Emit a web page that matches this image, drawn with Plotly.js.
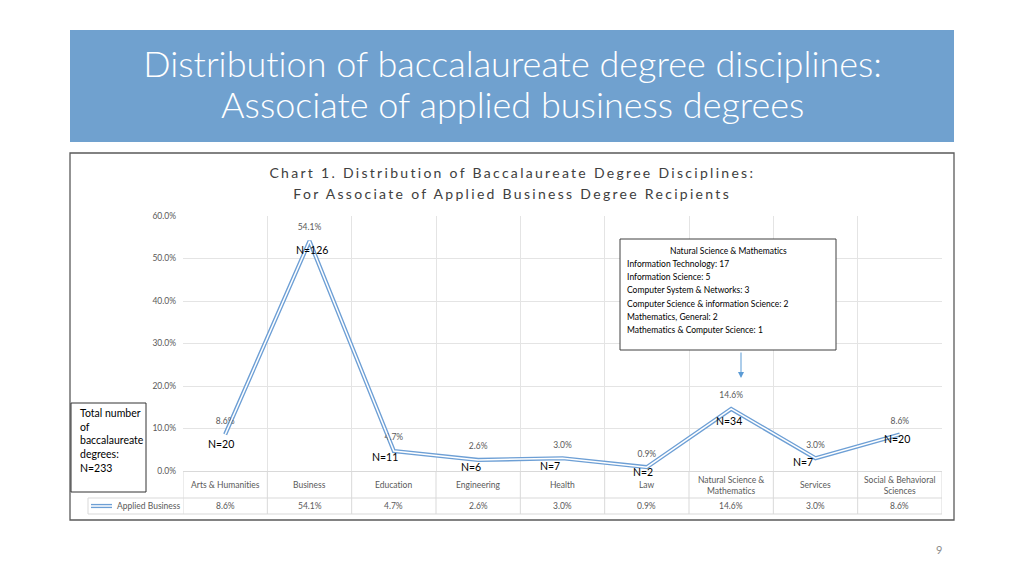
<!DOCTYPE html>
<html>
<head>
<meta charset="utf-8">
<script src="https://cdn.plot.ly/plotly-3.0.1.min.js"></script>
<style>
  html, body { margin: 0; padding: 0; background: #fff; }
  #plot { width: 1024px; height: 576px; }
  #plot text { font-variant-ligatures: none !important; font-feature-settings: "liga" 0, "clig" 0 !important; }
</style>
</head>
<body>
<div id="plot"></div>
<script>
// data
let categories = ["Arts & Humanities", "Business", "Education", "Engineering", "Health",
  "Law", "Natural Science & Mathematics", "Services", "Social & Behavioral Sciences"];
let tickLabels = ["Arts & Humanities", "Business", "Education", "Engineering", "Health",
  "Law", "Natural Science &<br>Mathematics", "Services", "Social & Behavioral<br>Sciences"];
let pctValues = [8.6, 54.1, 4.7, 2.6, 3.0, 0.9, 14.6, 3.0, 8.6];
let nCounts = [20, 126, 11, 6, 7, 2, 34, 7, 20];
let seriesName = "Applied Business";
let headerLines = ["Distribution of baccalaureate degree disciplines:", "Associate of applied business degrees"];
let chartTitleLines = ["Chart 1. Distribution of Baccalaureate Degree Disciplines:",
  "For Associate of Applied Business Degree Recipients"];
let noteTitle = "Natural Science & Mathematics";
let noteLines = ["Information Technology: 17", "Information Science: 5", "Computer System & Networks: 3",
  "Computer Science & information Science: 2", "Mathematics, General: 2", "Mathematics & Computer Science: 1"];

// page is 1024x576, helpers turn pixels into paper fractions
const W = 1024, H = 576;
let fx = function (p) { return p / W; };
let fy = function (p) { return 1 - p / H; };

// where each N= label sits relative to its point (px)
let nShift = [[-4, -10], [2, -9], [-9, -6], [-7, -7], [-13, -8], [-4, -5], [-2, -12], [-13, -4], [-3, -5]];

let pctText = pctValues.map(v => v.toFixed(1) + "%");
let total = nCounts.reduce((a, b) => a + b, 0);

let blue = "#6d9fd5";
let grey = "#595959";
let gridCol = "#e4e4e4";
let chartFont = "Lato, 'Open Sans', sans-serif";

let outer = {
  x: categories,
  y: pctValues,
  type: "scatter",
  mode: "lines+markers+text",
  text: pctText,
  textposition: "top center",
  textfont: { family: chartFont, size: 8.5, color: grey },
  line: { color: blue, width: 4.2 },
  // invisible markers just push the value labels up off the line
  marker: { size: 12, color: "rgba(0,0,0,0)" },
  cliponaxis: false,
  hoverinfo: "skip",
  showlegend: false
};
let inner = {
  x: categories,
  y: pctValues,
  type: "scatter",
  mode: "lines",
  line: { color: "#ffffff", width: 1.5 },
  hoverinfo: "skip",
  showlegend: false
};

let shapes = [
  // header band
  { type: "rect", xref: "paper", yref: "paper", x0: fx(70), x1: fx(954), y0: fy(142), y1: fy(30),
    fillcolor: "#70a1cf", line: { width: 0 }, layer: "below" },
  // chart frame
  { type: "rect", xref: "paper", yref: "paper", x0: fx(70), x1: fx(954), y0: fy(520), y1: fy(153),
    line: { color: "#5a5a5a", width: 1.3 } },
  // total box
  { type: "rect", xref: "paper", yref: "paper", x0: fx(71), x1: fx(146), y0: fy(492), y1: fy(403),
    fillcolor: "#ffffff", line: { color: "#333333", width: 1 } },
  // note box
  { type: "rect", xref: "paper", yref: "paper", x0: fx(620), x1: fx(836), y0: fy(350), y1: fy(239),
    fillcolor: "#ffffff", line: { color: "#404040", width: 1 } },
  // data table lines
  { type: "line", xref: "paper", yref: "paper", x0: fx(88), x1: fx(942), y0: fy(498), y1: fy(498),
    line: { color: "#d9d9d9", width: 1 } },
  { type: "line", xref: "paper", yref: "paper", x0: fx(88), x1: fx(942), y0: fy(514), y1: fy(514),
    line: { color: "#d9d9d9", width: 1 } },
  { type: "line", xref: "paper", yref: "paper", x0: fx(88), x1: fx(88), y0: fy(498), y1: fy(514),
    line: { color: "#d9d9d9", width: 1 } },
  // legend key, double line
  { type: "line", xref: "paper", yref: "paper", x0: fx(91), x1: fx(112), y0: fy(506), y1: fy(506),
    line: { color: blue, width: 4.2 } },
  { type: "line", xref: "paper", yref: "paper", x0: fx(91), x1: fx(112), y0: fy(506), y1: fy(506),
    line: { color: "#ffffff", width: 1.5 } }
];
// vertical table borders at category boundaries
for (let i = 0; i <= categories.length; i++) {
  shapes.push({ type: "line", xref: "x", yref: "paper", x0: i - 0.5, x1: i - 0.5, y0: fy(514), y1: fy(471),
    line: { color: "#d9d9d9", width: 1 } });
}

let annotations = [
  { xref: "paper", yref: "paper", x: fx(78), y: fy(405), xanchor: "left", yanchor: "top", align: "left",
    text: "Total number<br>of<br>baccalaureate<br>degrees:<br>N=" + total,
    showarrow: false, font: { family: chartFont, size: 10.5, color: "#000000" } },
  { xref: "paper", yref: "paper", x: fx(728), y: fy(251), xanchor: "center", yanchor: "middle",
    text: noteTitle, showarrow: false, font: { family: chartFont, size: 8.5, color: "#000000" } },
  // arrow from note box down to the Natural Science point
  { xref: "paper", yref: "paper", x: fx(741), y: fy(378), ax: 0, ay: -27, text: "", showarrow: true,
    arrowhead: 2, arrowsize: 1.2, arrowwidth: 1, arrowcolor: "#5b9bd5" },
  { xref: "paper", yref: "paper", x: fx(115), y: fy(506), xanchor: "left", yanchor: "middle",
    text: seriesName, showarrow: false, font: { family: chartFont, size: 8.5, color: grey } },
  { xref: "paper", yref: "paper", x: fx(944), y: fy(549), xanchor: "right", yanchor: "middle",
    text: "9", showarrow: false, font: { family: chartFont, size: 11, color: "#8c8c8c" } }
];
headerLines.forEach(function (t, i) {
  annotations.push({ xref: "paper", yref: "paper", x: fx(512), y: fy(63 + i * 41), xanchor: "center", yanchor: "middle",
    text: t, showarrow: false, font: { family: chartFont, size: 36, color: "#ffffff", weight: 300 } });
});
chartTitleLines.forEach(function (t, i) {
  annotations.push({ xref: "paper", yref: "paper", x: fx(512), y: fy(172 + i * 21), xanchor: "center", yanchor: "middle",
    text: t, showarrow: false, font: { family: chartFont, size: 14, color: "#404040" } });
});
noteLines.forEach(function (t, i) {
  annotations.push({ xref: "paper", yref: "paper", x: fx(625), y: fy(264 + i * 13.2), xanchor: "left", yanchor: "middle",
    text: t, showarrow: false, font: { family: chartFont, size: 8.5, color: "#000000" } });
});
categories.forEach(function (c, i) {
  // N= labels next to the points
  annotations.push({ xref: "x", yref: "y", x: c, y: pctValues[i], xshift: nShift[i][0], yshift: nShift[i][1],
    text: "N=" + nCounts[i], showarrow: false, font: { family: chartFont, size: 10.5, color: "#000000" } });
  // category row of the data table
  annotations.push({ xref: "x", yref: "paper", x: c, y: fy(485), yanchor: "middle",
    text: tickLabels[i], showarrow: false, font: { family: chartFont, size: 8.5, color: grey } });
  // value row of the data table
  annotations.push({ xref: "x", yref: "paper", x: c, y: fy(506), yanchor: "middle",
    text: pctText[i], showarrow: false, font: { family: chartFont, size: 8.5, color: grey } });
});

let layout = {
  width: W,
  height: 576,
  margin: { l: 0, r: 0, t: 0, b: 0 },
  paper_bgcolor: "#ffffff",
  plot_bgcolor: "#ffffff",
  font: { family: chartFont },
  xaxis: {
    domain: [fx(183), fx(942)],
    type: "category",
    range: [-0.5, 8.5],
    tickson: "boundaries",
    showgrid: true,
    gridcolor: gridCol,
    showticklabels: false,
    ticks: "",
    showline: true,
    linecolor: "#d9d9d9",
    zeroline: false,
    fixedrange: true
  },
  yaxis: {
    domain: [fy(471), fy(216)],
    range: [0, 60],
    dtick: 10,
    tickformat: ".1f",
    ticksuffix: "%",
    ticks: "",
    ticklabelstandoff: 6,
    tickfont: { family: chartFont, size: 8.5, color: grey },
    showgrid: true,
    gridcolor: gridCol,
    zeroline: false,
    showline: false,
    fixedrange: true
  },
  shapes: shapes,
  annotations: annotations
};

Plotly.newPlot("plot", [outer, inner], layout, { displayModeBar: false, staticPlot: true }).then(function () {
  document.querySelectorAll(".annotation-text").forEach(function (el) {
    // the chart heading in the slide is letter-spaced
    if (chartTitleLines.indexOf(el.textContent) >= 0) el.style.letterSpacing = "2.3px";
    el.style.fontVariantLigatures = "none";
  });
});
</script>
</body>
</html>
